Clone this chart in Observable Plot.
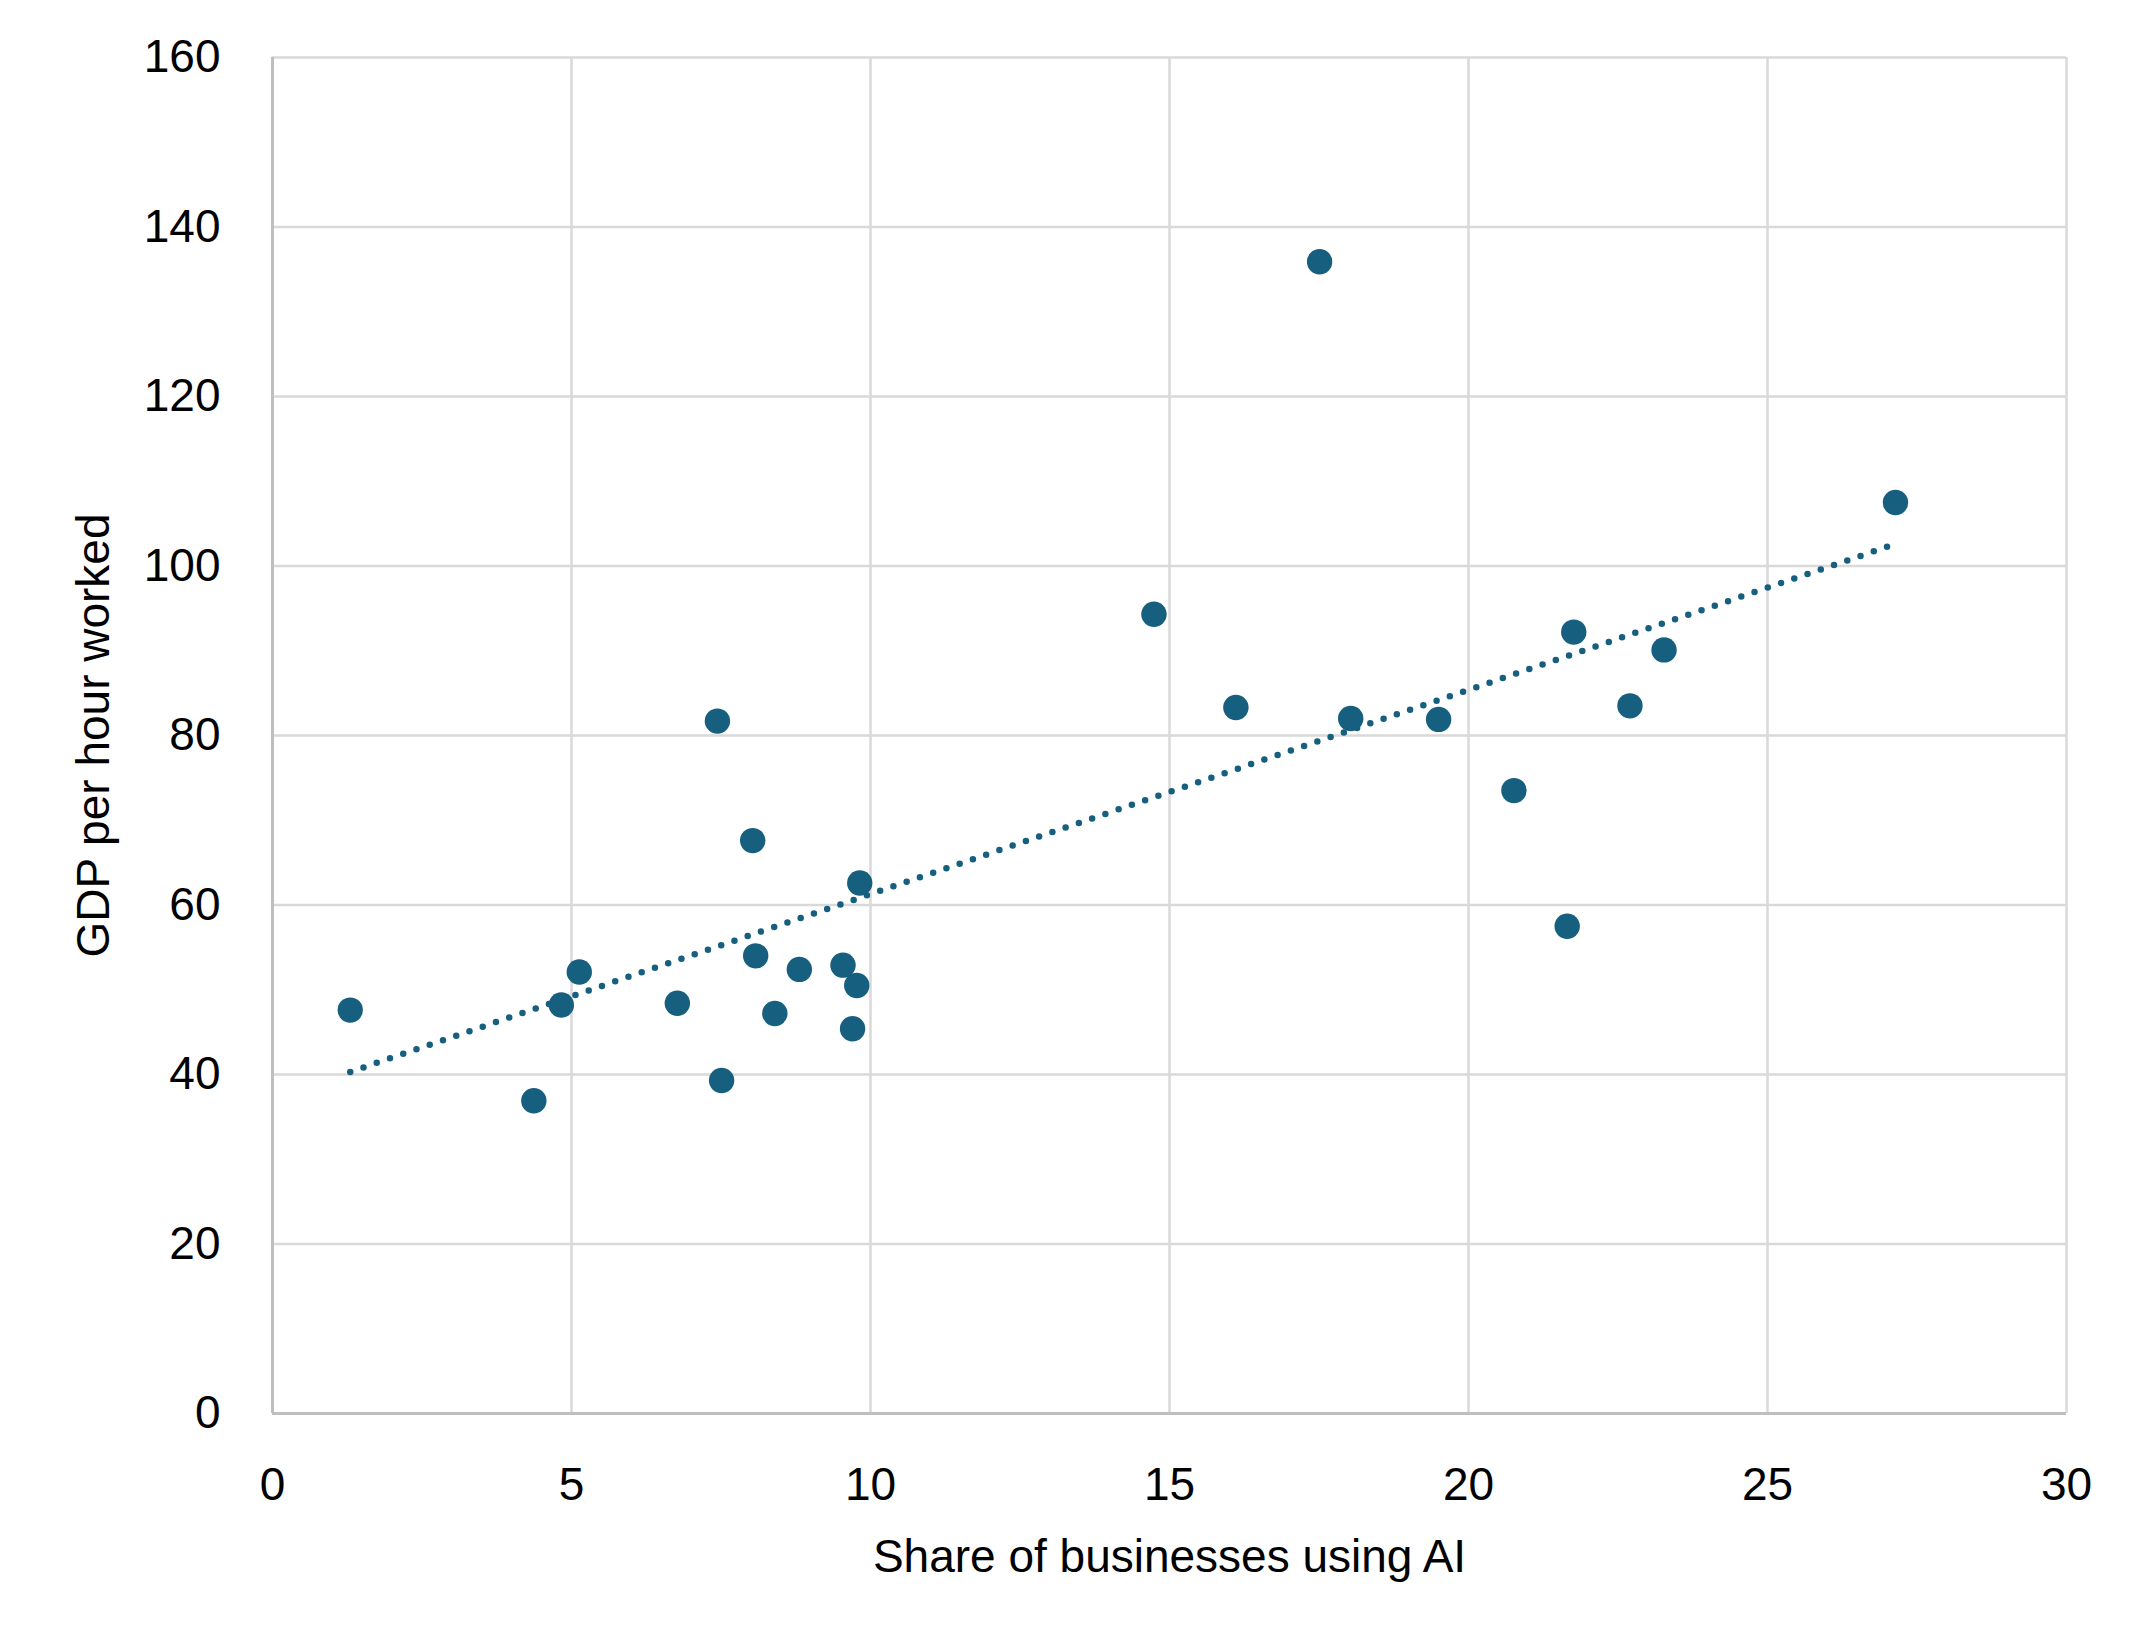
<!DOCTYPE html>
<html>
<head>
<meta charset="utf-8">
<script src="https://cdn.jsdelivr.net/npm/d3@7"></script>
<script src="https://cdn.jsdelivr.net/npm/@observablehq/plot@0.6"></script>
<style>
  html, body { margin: 0; padding: 0; background: #ffffff; }
  #chart svg { display: block; }
</style>
</head>
<body>
<div id="chart"></div>
<script>
// Share of businesses using AI (x) and GDP per hour worked (y)
const shareAI = [1.30, 4.37, 4.83, 5.13, 6.77, 7.44, 7.51, 8.03, 8.08, 8.40, 8.81, 9.54, 9.77, 9.70, 9.82,
                 14.74, 16.11, 17.51, 18.03, 19.50, 20.76, 21.65, 21.76, 22.70, 23.27, 27.14];
const gdpPerHour = [47.6, 36.9, 48.2, 52.1, 48.4, 81.7, 39.3, 67.6, 54.0, 47.2, 52.4, 52.9, 50.5, 45.4, 62.6,
                    94.3, 83.3, 135.9, 82.0, 81.9, 73.5, 57.5, 92.2, 83.5, 90.1, 107.5];
const xTicks = [0, 5, 10, 15, 20, 25, 30];
const yTicks = [0, 20, 40, 60, 80, 100, 120, 140, 160];
const xTitle = "Share of businesses using AI";
const yTitle = "GDP per hour worked";

const data = shareAI.map((x, i) => ({x, y: gdpPerHour[i]}));
const color = "#175f7e";
const font = "'Liberation Sans', Arial, sans-serif";

const chart = Plot.plot({
  width: 2145,
  height: 1650,
  marginLeft: 272,
  marginRight: 79,
  marginTop: 57,
  marginBottom: 237,
  style: {fontFamily: font, fontSize: "46px", color: "#000", background: "#fff"},
  x: {domain: [0, 30]},
  y: {domain: [0, 160]},
  marks: [
    Plot.gridX(xTicks, {stroke: "#d9d9d9", strokeWidth: 2.5, strokeOpacity: 1}),
    Plot.gridY(yTicks, {stroke: "#d9d9d9", strokeWidth: 2.5, strokeOpacity: 1}),
    Plot.ruleX([0], {stroke: "#bfbfbf", strokeWidth: 3}),
    Plot.ruleY([0], {stroke: "#bfbfbf", strokeWidth: 3}),
    Plot.axisX(xTicks, {tickSize: 0, tickPadding: 54, label: null, fontSize: 46}),
    Plot.axisY(yTicks, {tickSize: 0, tickPadding: 52, label: null, fontSize: 46}),
    Plot.linearRegressionY(data, {x: "x", y: "y", ci: 0, stroke: color, strokeWidth: 6.5,
      strokeDasharray: "0 14", strokeLinecap: "round"}),
    Plot.dot(data, {x: "x", y: "y", r: 12.7, fill: color}),
    Plot.text([xTitle], {text: d => d, frameAnchor: "bottom", dy: 158, fontSize: 46, fill: "#000"}),
    Plot.text([yTitle], {text: d => d, frameAnchor: "left", textAnchor: "middle", rotate: -90, dx: -178, fontSize: 46, fill: "#000"})
  ]
});
document.getElementById("chart").appendChild(chart);
</script>
</body>
</html>
